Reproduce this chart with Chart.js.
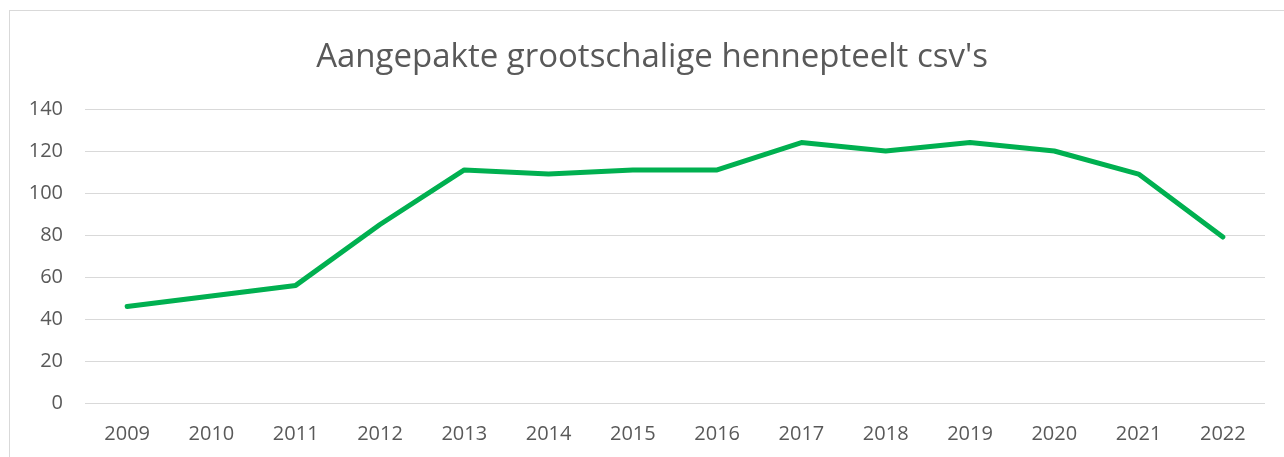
<!DOCTYPE html>
<html lang="nl">
<head>
    <meta charset="UTF-8">
    <title>Aangepakte grootschalige hennepteelt csv's</title>
    <script src="https://cdn.jsdelivr.net/npm/chart.js"></script>
    <style>
        html, body { margin: 0; padding: 0; background: #fff; overflow: hidden; }
        .frame {
            position: absolute;
            left: 9px; top: 10px;
            width: 1290px; height: 470px;
            border: 1px solid #d9d9d9;
            box-sizing: border-box;
        }
        #chart { position: absolute; left: 0; top: 0; }
    </style>
</head>
<body>
    <div class="frame"></div>
    <canvas id="chart" width="1284" height="457"></canvas>
    <script>
        const years = ['2009', '2010', '2011', '2012', '2013', '2014', '2015',
                       '2016', '2017', '2018', '2019', '2020', '2021', '2022'];
        const aangepakt = [46, 51, 56, 85, 111, 109, 111, 111, 124, 120, 124, 120, 109, 79];
        const yMax = 140;
        const yStep = 20;
        const titleText = "Aangepakte grootschalige hennepteelt csv's";

        const font = '"Open Sans", "Liberation Sans", sans-serif';
        const grey = '#595959';

        // title is centred on the whole frame, not on the plot, so draw it by hand
        const frameTitle = {
            id: 'frameTitle',
            afterDraw(chart) {
                const c = chart.ctx;
                c.save();
                c.font = '33px ' + font;
                c.fillStyle = grey;
                c.textAlign = 'center';
                c.textBaseline = 'alphabetic';
                c.fillText(titleText, 652, 67);
                c.restore();
            }
        };

        const ctx = document.getElementById('chart').getContext('2d');
        const chart = new Chart(ctx, {
            type: 'line',
            data: {
                labels: years,
                datasets: [{
                    label: titleText,
                    data: aangepakt,
                    borderColor: '#00b050',
                    backgroundColor: '#00b050',
                    borderWidth: 5,
                    borderCapStyle: 'round',
                    borderJoinStyle: 'round',
                    pointRadius: 0,
                    tension: 0
                }]
            },
            options: {
                responsive: false,
                animation: false,
                layout: { padding: { left: 0, right: 19, top: 109, bottom: 0 } },
                plugins: {
                    legend: { display: false },
                    tooltip: { enabled: false },
                    title: { display: false }
                },
                scales: {
                    x: {
                        offset: true,
                        grid: { display: false },
                        border: { display: false },
                        ticks: {
                            color: grey,
                            font: { family: font, size: 20 },
                            padding: 11,
                            maxRotation: 0
                        },
                        afterFit: function(scale) { scale.height = 54; }
                    },
                    y: {
                        min: 0,
                        max: yMax,
                        grid: { color: '#d9d9d9', lineWidth: 1, drawTicks: false },
                        border: { display: false },
                        ticks: {
                            stepSize: yStep,
                            color: grey,
                            font: { family: font, size: 20 },
                            padding: 22
                        },
                        afterFit: function(scale) { scale.width = 85; }
                    }
                }
            },
            plugins: [frameTitle]
        });
    </script>
</body>
</html>
